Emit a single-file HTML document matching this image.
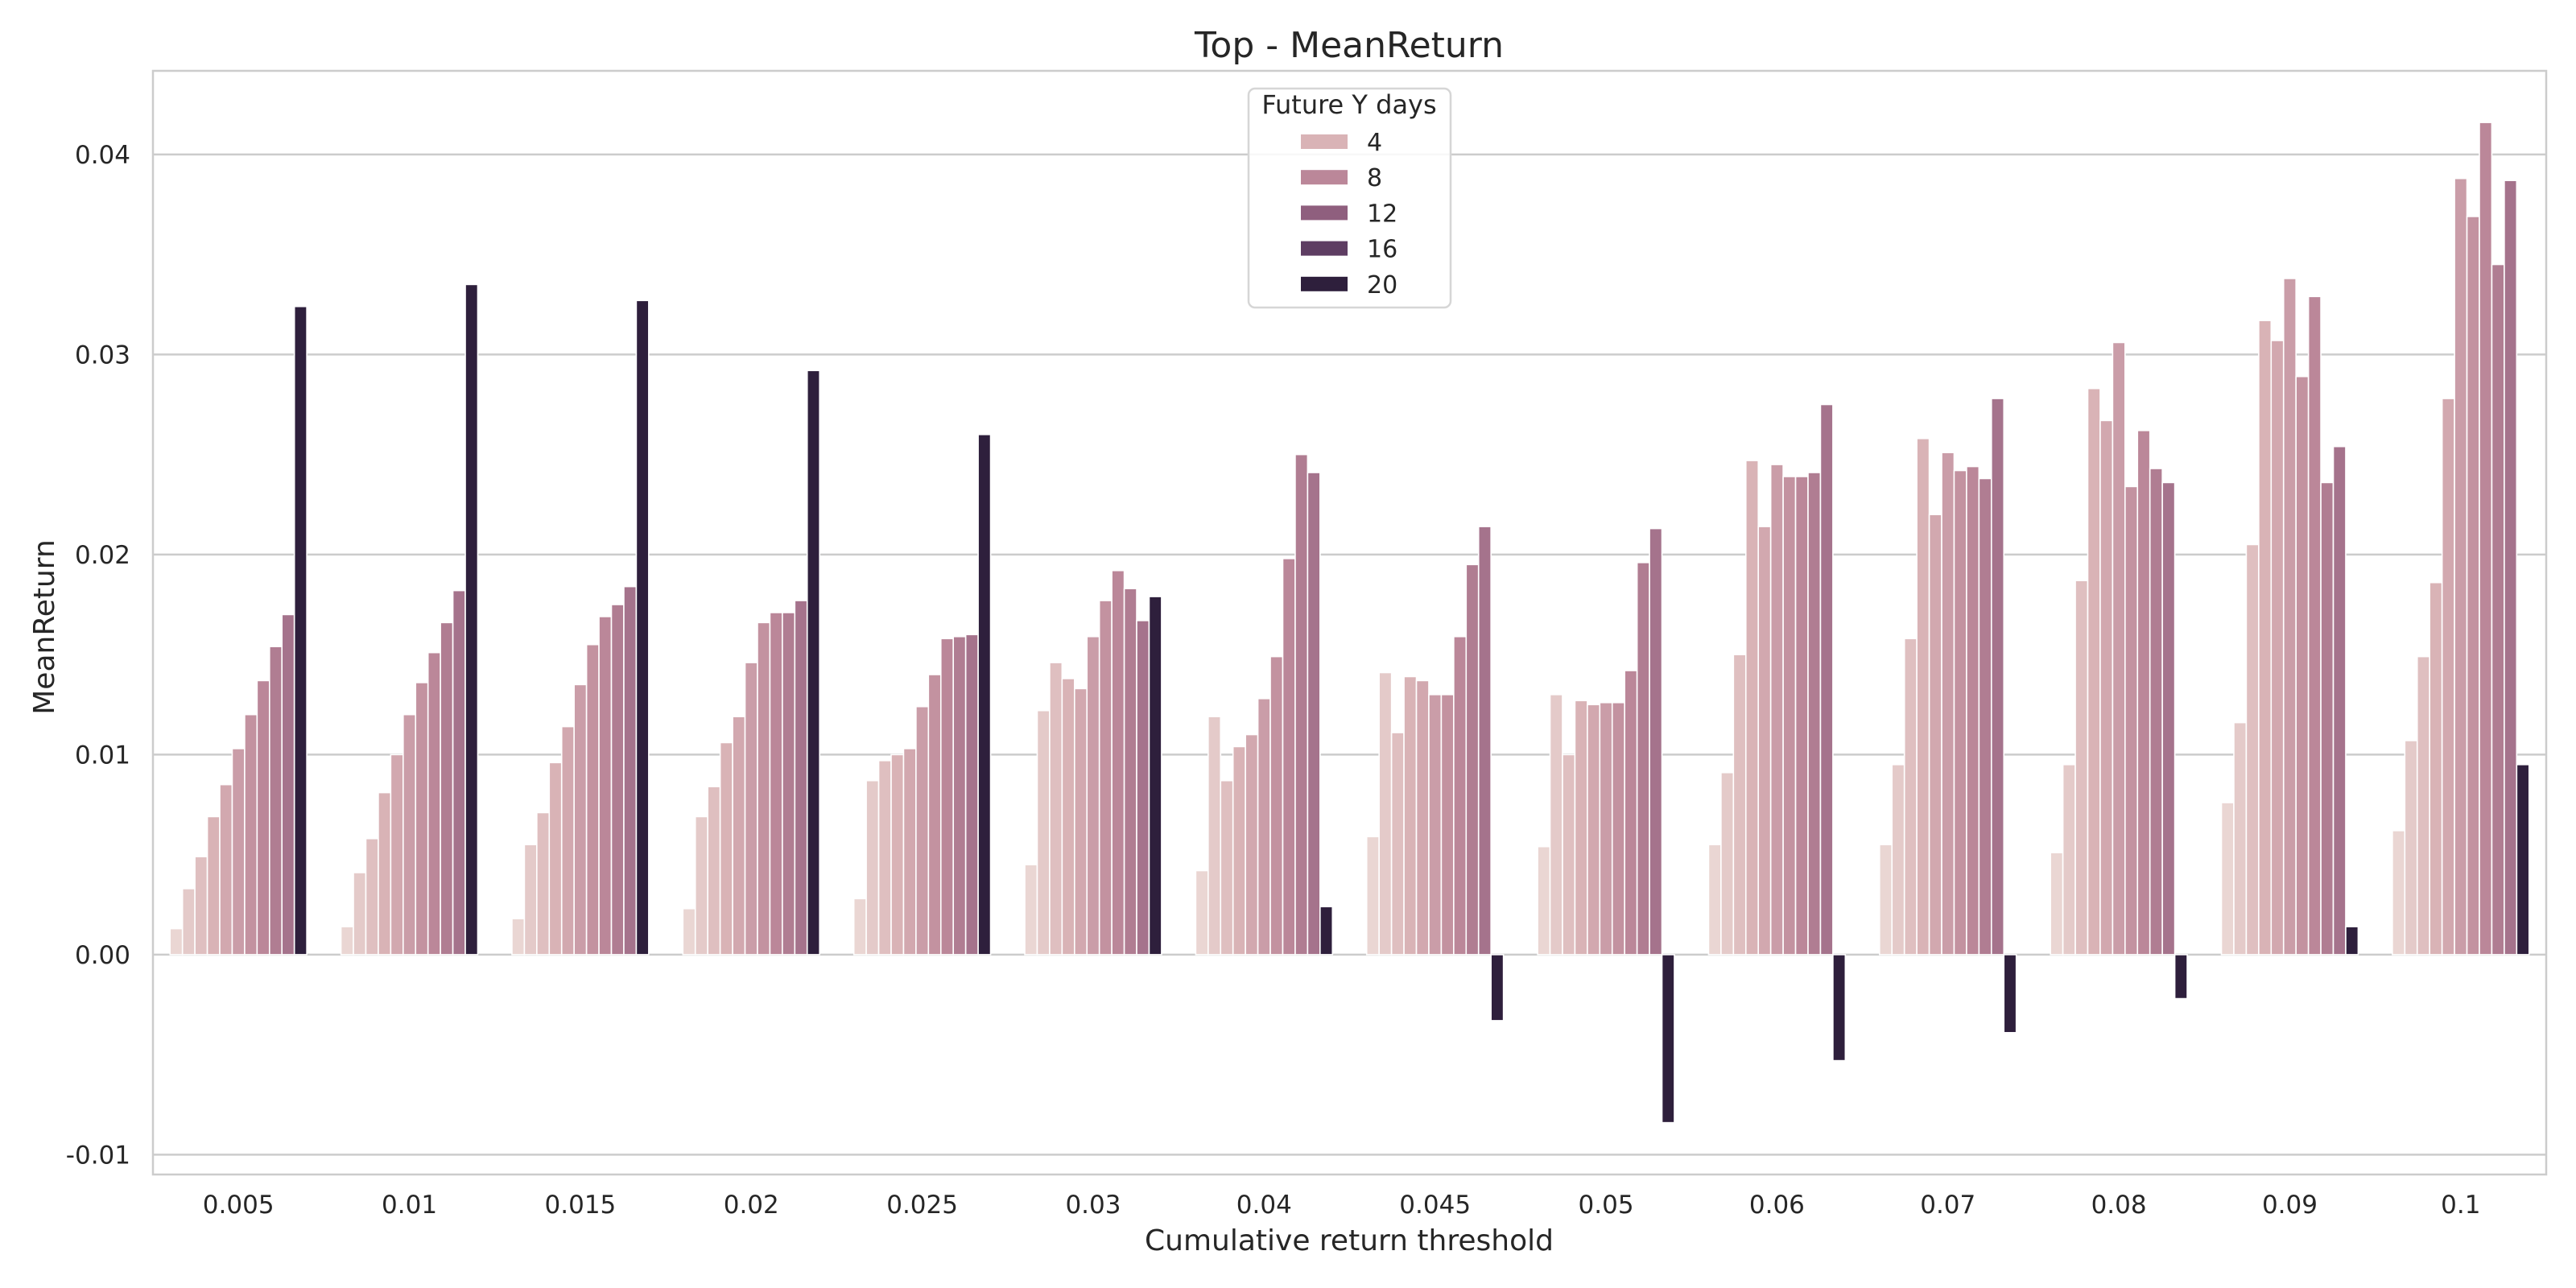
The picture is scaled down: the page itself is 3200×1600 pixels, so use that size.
<!DOCTYPE html>
<html><head><meta charset="utf-8"><style>
html,body{margin:0;padding:0;background:#fff;}
svg{display:block;font-family:"DejaVu Sans","Liberation Sans",sans-serif;}
</style></head><body>
<svg id="chart" width="3200" height="1600" viewBox="0 0 3200 1600" xmlns="http://www.w3.org/2000/svg">
<rect width="3200" height="1600" fill="#fff"/>
<g id="grid"></g>
<g id="bars"></g>
<rect x="190" y="88" width="2973" height="1371" fill="none" stroke="#cccccc" stroke-width="2.5"/>
<g id="yticks"></g>
<g id="xticks"></g>
<text x="1676" y="71" font-size="44" fill="#262626" text-anchor="middle">Top - MeanReturn</text>
<text x="1676" y="1553" font-size="36" fill="#262626" text-anchor="middle">Cumulative return threshold</text>
<text x="0" y="0" transform="translate(67,779) rotate(-90)" font-size="36" fill="#262626" text-anchor="middle">MeanReturn</text>
<g id="legend"></g>
</svg>
<script>
const categories = ["0.005","0.01","0.015","0.02","0.025","0.03","0.04","0.045","0.05","0.06","0.07","0.08","0.09","0.1"];
const hueLevels = [1,2,3,4,5,6,7,8,9,10,20];
const s0005 = [0.0013,0.0033,0.0049,0.0069,0.0085,0.0103,0.0120,0.0137,0.0154,0.0170,0.0324];
const s001  = [0.0014,0.0041,0.0058,0.0081,0.0100,0.0120,0.0136,0.0151,0.0166,0.0182,0.0335];
const s0015 = [0.0018,0.0055,0.0071,0.0096,0.0114,0.0135,0.0155,0.0169,0.0175,0.0184,0.0327];
const s002  = [0.0023,0.0069,0.0084,0.0106,0.0119,0.0146,0.0166,0.0171,0.0171,0.0177,0.0292];
const s0025 = [0.0028,0.0087,0.0097,0.0100,0.0103,0.0124,0.0140,0.0158,0.0159,0.0160,0.0260];
const s003  = [0.0045,0.0122,0.0146,0.0138,0.0133,0.0159,0.0177,0.0192,0.0183,0.0167,0.0179];
const s004  = [0.0042,0.0119,0.0087,0.0104,0.0110,0.0128,0.0149,0.0198,0.0250,0.0241,0.0024];
const s0045 = [0.0059,0.0141,0.0111,0.0139,0.0137,0.0130,0.0130,0.0159,0.0195,0.0214,-0.0033];
const s005  = [0.0054,0.0130,0.0100,0.0127,0.0125,0.0126,0.0126,0.0142,0.0196,0.0213,-0.0084];
const s006  = [0.0055,0.0091,0.0150,0.0247,0.0214,0.0245,0.0239,0.0239,0.0241,0.0275,-0.0053];
const s007  = [0.0055,0.0095,0.0158,0.0258,0.0220,0.0251,0.0242,0.0244,0.0238,0.0278,-0.0039];
const s008  = [0.0051,0.0095,0.0187,0.0283,0.0267,0.0306,0.0234,0.0262,0.0243,0.0236,-0.0022];
const s009  = [0.0076,0.0116,0.0205,0.0317,0.0307,0.0338,0.0289,0.0329,0.0236,0.0254,0.0014];
const s010  = [0.0062,0.0107,0.0149,0.0186,0.0278,0.0388,0.0369,0.0416,0.0345,0.0387,0.0095];
const seriesByCategory = [s0005,s001,s0015,s002,s0025,s003,s004,s0045,s005,s006,s007,s008,s009,s010];
const yTicks = [-0.01,0.00,0.01,0.02,0.03,0.04];
const yTickLabels = ["-0.01","0.00","0.01","0.02","0.03","0.04"];
const legendLevels = [4,8,12,16,20];

const NS="http://www.w3.org/2000/svg";
const L=190,R=3163,T=88,B=1459, yMin=-0.01099, yMax=0.04418;
const y = v => B - (v - yMin)/(yMax - yMin)*(B-T);
const step=(R-L)/categories.length;
const xc = i => L + step*(i+0.5);
const barW = step*0.8/hueLevels.length;
const anchors=[[1,[234,214,211]],[4,[217,179,182]],[8,[187,135,153]],[12,[143,95,126]],[16,[94,61,98]],[20,[46,31,60]]];
function color(v){
  for(let k=0;k<anchors.length-1;k++){
    const [a,ca]=anchors[k],[b,cb]=anchors[k+1];
    if(v>=a&&v<=b){const t=(v-a)/(b-a);return `rgb(${ca.map((c,j)=>Math.round(c+(cb[j]-c)*t)).join(',')})`;}
  }
  return 'rgb(46,31,60)';
}
function mk(tag,attrs,parent,text){const e=document.createElementNS(NS,tag);for(const k in attrs)e.setAttribute(k,attrs[k]);if(text!==undefined)e.textContent=text;parent.appendChild(e);return e;}
const grid=document.getElementById('grid'), yt=document.getElementById('yticks');
yTicks.forEach((v,i)=>{
  const g=mk('line',{x1:L,x2:R,y1:y(v),y2:y(v),stroke:'#cccccc','stroke-width':2.5},grid);
  
  
  const t=mk('text',{x:L-28,y:y(v)+11,'font-size':31,fill:'#262626','text-anchor':'end'},yt,yTickLabels[i]);
  
  
});
const bars=document.getElementById('bars'), xt=document.getElementById('xticks');
categories.forEach((c,i)=>{
  const vals=seriesByCategory[i];
  const x0=xc(i)-step*0.4;
  vals.forEach((v,j)=>{
    const top=Math.min(y(v),y(0)), h=Math.abs(y(v)-y(0));
    const r=mk('rect',{x:x0+j*barW,y:top,width:barW,height:h,fill:color(hueLevels[j]),stroke:'#fff','stroke-width':1.6},bars);
    
    
  });
  const t=mk('text',{x:xc(i),y:1507,'font-size':31,fill:'#262626','text-anchor':'middle'},xt,c);
  
  
});
const lg=document.getElementById('legend');
const box=mk('rect',{x:1551,y:110,width:251,height:272,rx:8,fill:'#fff','fill-opacity':0.85,stroke:'#d6d6d6','stroke-width':2.5},lg);


const lt=mk('text',{x:1676,y:141,'font-size':32,fill:'#262626','text-anchor':'middle'},lg,'Future Y days');


legendLevels.forEach((lv,k)=>{
  const cy=176+k*44.2;
  const p=mk('rect',{x:1616,y:cy-9,width:58,height:18,fill:color(lv)},lg);
  
  
  const t=mk('text',{x:1698,y:cy+11,'font-size':30,fill:'#262626'},lg,String(lv));
  
  
});
</script>
</body></html>
